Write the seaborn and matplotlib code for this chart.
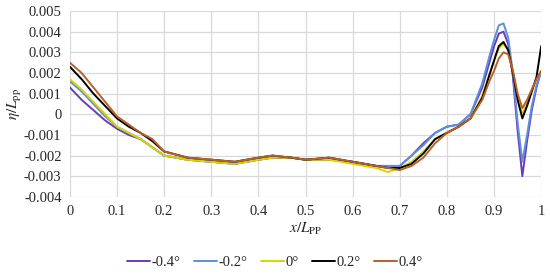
import pandas as pd
import matplotlib
matplotlib.use("Agg")
from matplotlib import pyplot as plt
import seaborn as sns

# x/Lpp positions where the curves were read
x_pos = [0, 0.025, 0.05, 0.075, 0.1, 0.125, 0.15, 0.175, 0.2, 0.25, 0.3, 0.35,
         0.4, 0.43, 0.47, 0.5, 0.55, 0.6, 0.65, 0.675, 0.7, 0.725, 0.75, 0.775,
         0.8, 0.825, 0.85, 0.875, 0.89, 0.9, 0.91, 0.92, 0.93, 0.94, 0.95, 0.96,
         0.97, 0.98, 0.99, 1.0]

# wave elevation eta/Lpp for each trim angle
eta_m04 = [0.0013, 0.0007, 0.0002, -0.0003, -0.0007, -0.0010, -0.0012, -0.0016, -0.0020,
           -0.0022, -0.0023, -0.0024, -0.0022, -0.0021, -0.0021, -0.0022, -0.0022, -0.0023,
           -0.0025, -0.0025, -0.0025, -0.0020, -0.0014, -0.0009, -0.0006, -0.0005, 0.0000,
           0.0013, 0.0025, 0.0033, 0.0039, 0.0040, 0.0034, 0.0018, -0.0008, -0.0030,
           -0.0013, 0.0002, 0.0013, 0.0021]
eta_m02 = [0.0016, 0.0011, 0.0005, -0.0001, -0.0006, -0.0009, -0.0012, -0.0016, -0.0020,
           -0.0022, -0.0023, -0.0024, -0.0022, -0.0021, -0.0021, -0.0022, -0.0022, -0.0023,
           -0.0025, -0.0025, -0.0025, -0.0020, -0.0015, -0.0009, -0.0006, -0.0005, 0.0000,
           0.0015, 0.0028, 0.0036, 0.0043, 0.0044, 0.0037, 0.0020, -0.0004, -0.0023,
           -0.0010, 0.0004, 0.0014, 0.0021]
eta_0 = [0.0017, 0.0012, 0.0006, 0.0000, -0.0006, -0.0009, -0.0012, -0.0016, -0.0020,
         -0.0022, -0.0023, -0.0024, -0.0022, -0.0021, -0.0021, -0.0022, -0.0022, -0.0024,
         -0.0026, -0.0028, -0.0026, -0.0023, -0.0018, -0.0012, -0.0009, -0.0006, -0.0002,
         0.0009, 0.0019, 0.0026, 0.0032, 0.0034, 0.0031, 0.0021, 0.0009, 0.0000,
         0.0006, 0.0012, 0.0017, 0.0021]
eta_p02 = [0.0023, 0.0017, 0.0010, 0.0004, -0.0002, -0.0006, -0.0009, -0.0013, -0.0018,
           -0.0021, -0.0022, -0.0023, -0.0021, -0.0020, -0.0021, -0.0022, -0.0021, -0.0023,
           -0.0025, -0.0026, -0.0026, -0.0024, -0.0019, -0.0012, -0.0009, -0.0006, -0.0002,
           0.0008, 0.0019, 0.0026, 0.0033, 0.0035, 0.0031, 0.0020, 0.0007, -0.0002,
           0.0004, 0.0011, 0.0018, 0.0033]
eta_p04 = [0.0025, 0.0020, 0.0013, 0.0006, -0.0001, -0.0005, -0.0009, -0.0012, -0.0018,
           -0.0021, -0.0022, -0.0023, -0.0021, -0.0020, -0.0021, -0.0022, -0.0021, -0.0023,
           -0.0025, -0.0026, -0.0027, -0.0025, -0.0021, -0.0014, -0.0009, -0.0006, -0.0002,
           0.0007, 0.0016, 0.0021, 0.0027, 0.0030, 0.0029, 0.0021, 0.0010, 0.0003,
           0.0007, 0.0012, 0.0017, 0.0021]

labels = ['-0.4°', '-0.2°', '0°', '0.2°', '0.4°']
colors = ['#6a3db8', '#5b8fe0', '#d8d400', '#000000', '#b8602a']

series = [eta_m04, eta_m02, eta_0, eta_p02, eta_p04]
frames = [pd.DataFrame({'x': x_pos, 'eta': vals, 'angle': lab}) for lab, vals in zip(labels, series)]
df = pd.concat(frames, ignore_index=True)

sns.set_style('white')
plt.rcParams['font.family'] = ['Liberation Serif', 'DejaVu Serif']
plt.rcParams['mathtext.fontset'] = 'stix'

fig = plt.figure(figsize=(5.5, 2.75), dpi=100)
ax = fig.add_axes([0.127, 0.284, 0.857, 0.676])

sns.lineplot(data=df, x='x', y='eta', hue='angle', palette=dict(zip(labels, colors)),
             linewidth=1.4, ax=ax, legend=False)

ax.set_xlim(0, 1)
ax.set_ylim(-0.004, 0.005)
ax.set_xticks([i / 10 for i in range(11)])
ax.set_xticklabels(['0', '0.1', '0.2', '0.3', '0.4', '0.5', '0.6', '0.7', '0.8', '0.9', '1'])
ax.set_yticks([i / 1000 for i in range(-4, 6)])
ax.set_yticklabels(['-0.004', '-0.003', '-0.002', '-0.001', '0', '0.001', '0.002',
                    '0.003', '0.004', '0.005'])
ax.tick_params(labelsize=10.5, length=0, pad=6)
ax.grid(True, color='#d9d9d9', linewidth=0.9)
for s in ax.spines.values():
    s.set_visible(False)

ax.set_xlabel(r'$x/L_{\rm PP}$', fontsize=11, labelpad=2)
ax.set_ylabel(r'$\eta/L_{\rm pp}$', fontsize=11, labelpad=0)

handles = [plt.Line2D([], [], color=c, linewidth=1.4) for c in colors]
fig.legend(handles, labels, loc='center', bbox_to_anchor=(0.5, 0.045), ncol=5,
           frameon=False, fontsize=10.5, handlelength=1.6, handletextpad=0.1,
           columnspacing=0.9)

fig.savefig('out.png', dpi=100)
